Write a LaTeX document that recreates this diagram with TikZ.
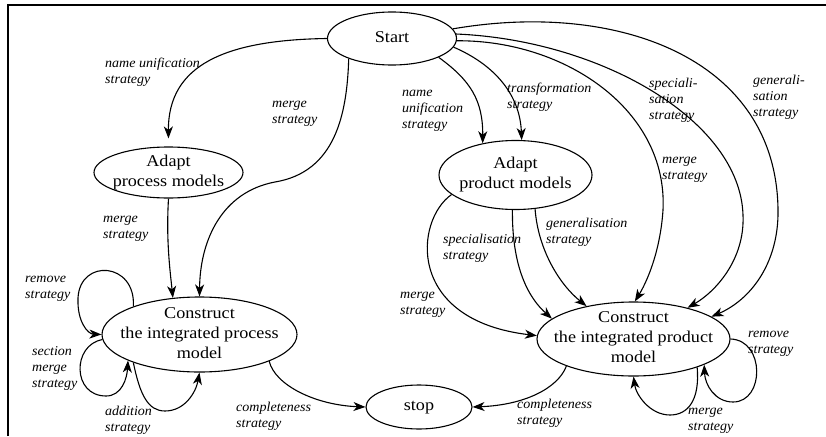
\documentclass[tikz,border=0pt]{standalone}
\usepackage{fontspec}
\setmainfont{Liberation Serif}
\newfontfamily\nodefont[FakeStretch=1.1]{Liberation Serif}
\newfontfamily\labfont[FakeStretch=1.04]{Liberation Serif}
\usetikzlibrary{arrows.meta,shapes.geometric}
\newcommand\nt[1]{\smash{\makebox[0pt]{\raisebox{-4pt}{\begin{tabular}{@{}c@{}}#1\end{tabular}}}}}
\tikzset{
  stnode/.style={ellipse, draw, line width=1.1pt, inner sep=0pt,
    font=\nodefont\fontsize{16.5}{20}\selectfont},
  lab/.style={anchor=west, align=left, inner sep=0pt,
    font=\labfont\itshape\fontsize{13.5}{16}\selectfont},
  conn/.style={line width=1.1pt, -{Stealth[length=12pt,width=9pt,inset=3.5pt]}},
}
\begin{document}
\begin{tikzpicture}[x=1pt,y=-1pt]
\useasboundingbox (0,0) rectangle (826,436);
\draw[line width=1.1pt] (8,436) -- (8,5) -- (826,5);

% nodes
\node[stnode, minimum width=129pt, minimum height=53pt] (S) at (392,38.5) {\nt{Start}};
\node[stnode, minimum width=149pt, minimum height=51pt] (AP) at (168.5,172.5) {\nt{Adapt\\process models}};
\node[stnode, minimum width=153pt, minimum height=69pt] (AD) at (515.5,175) {\nt{Adapt\\product models}};
\node[stnode, minimum width=195pt, minimum height=75pt] (CP) at (199.5,334.5) {\nt{Construct\\the integrated process\\model}};
\node[stnode, minimum width=193pt, minimum height=74pt] (CD) at (633.5,339) {\nt{Construct\\the integrated product\\model}};
\node[stnode, minimum width=106pt, minimum height=44pt] (ST) at (419,407) {\nt{stop}};

% process side
\draw[conn, shorten >=8pt] (S.180) .. controls (225,40) and (168,65) .. (AP.north);
\draw[conn] (S.205) .. controls (347,115) and (335,172) .. (275,182) .. controls (222,192) and (200,240) .. (CP.north);
\draw[conn] (AP.south) .. controls (166,240) and (170,270) .. (CP.126);
\draw[conn] (CP.157) .. controls (136,262) and (80,258) .. (78,298) .. controls (77,322) and (88,334) .. (CP.west);
\draw[conn] (CP.183) .. controls (72,345) and (72,396) .. (106,396) .. controls (122,396) and (127,378) .. (CP.200);
\draw[conn] (CP.203) .. controls (140,395) and (148,411) .. (165,411) .. controls (185,411) and (196,392) .. (CP.south);
\draw[conn] (CP.339) .. controls (275,385) and (315,405) .. (ST.west);

% product side
\draw[conn] (S.338) .. controls (470,80) and (483,100) .. (AD.136);
\draw[conn] (S.352) .. controls (495,65) and (520,95) .. (AD.80);
\draw[conn] (S.358) .. controls (565,40) and (668,110) .. (663,210) .. controls (660,255) and (645,285) .. (CD.88);
\draw[conn] (S.4) .. controls (600,40) and (740,120) .. (743,215) .. controls (745,260) and (715,292) .. (CD.30);
\draw[conn] (S.9) .. controls (620,0) and (780,60) .. (778,215) .. controls (777,265) and (750,300) .. (CD.16);
\draw[conn] (AD.197) .. controls (415,220) and (405,320) .. (CD.178);
\draw[conn] (AD.265) .. controls (512,250) and (520,290) .. (CD.166);
\draw[conn] (AD.300) .. controls (538,250) and (560,285) .. (CD.145);
\draw[conn] (CD.east) .. controls (765,340) and (765,402) .. (733,402) .. controls (715,402) and (705,385) .. (CD.340);
\draw[conn] (CD.336) .. controls (700,400) and (688,415) .. (670,415) .. controls (650,415) and (636,395) .. (CD.south);
\draw[conn] (CD.202) .. controls (558,388) and (525,405) .. (ST.east);

% labels
\node[lab] (l1) at (105,72.5) {name unification\\strategy};
\node[lab] (l2) at (272,114) {merge\\strategy};
\node[lab] (l3) at (103,229) {merge\\strategy};
\node[lab] (l4) at (25,289) {remove\\strategy};
\node[lab] (l5) at (32,368) {section\\merge\\strategy};
\node[lab] (l6) at (105,420.5) {addition\\strategy};
\node[lab] (l7) at (236,416) {completeness\\strategy};
\node[lab] (l8) at (402,111) {name\\unification\\strategy};
\node[lab] (l9) at (507,97) {transformation\\strategy};
\node[lab] (l10) at (649,100) {speciali-\\sation\\strategy};
\node[lab] (l11) at (753,97.5) {generali-\\sation\\strategy};
\node[lab] (l12) at (662,170) {merge\\strategy};
\node[lab] (l13) at (443,248) {specialisation\\strategy};
\node[lab] (l14) at (546,232) {generalisation\\strategy};
\node[lab] (l15) at (400,304.5) {merge\\strategy};
\node[lab] (l16) at (517,413.5) {completeness\\strategy};
\node[lab] (l17) at (748,343.5) {remove\\strategy};
\node[lab] (l18) at (688,421) {merge\\strategy};
\end{tikzpicture}
\end{document}
